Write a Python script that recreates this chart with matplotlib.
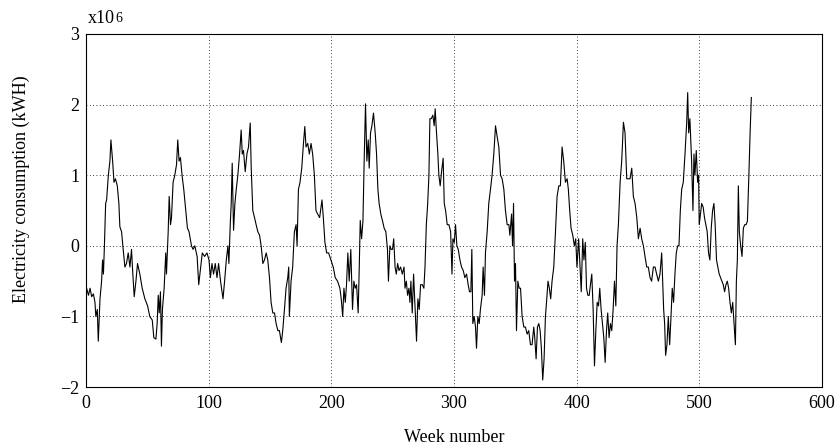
import numpy as np
import matplotlib
matplotlib.use('Agg')
import matplotlib.pyplot as plt

# weekly electricity consumption (deviation), units of 1e6 kWH
week = [
    0.5, 2, 3.3, 4.6, 6, 7.3, 8, 9.2, 10, 11.4, 12.7, 13.5, 14.2, 15, 16, 16.8, 18.2, 19.5, 20.3,
    21.7, 22.8, 24, 25.5, 26.8, 27.6, 29, 30.3, 31.7, 33, 34.4, 35.8, 37.1, 38, 39.3, 40.7, 42,
    43.9, 45.8, 48, 50.2, 52, 54, 55.3, 57, 58, 58.9, 59.7, 60.7, 61.5, 62.3, 63.7, 65, 65.6, 67,
    67.8, 68.9, 69.7, 71, 72.4, 73.8, 74.8, 75.9, 77, 78.3, 79.7, 81.3, 82.7, 84,
    86, 87.3, 88.7, 90.6, 91.9, 93.5, 94.8, 96.7, 98.6, 100.3, 101.4, 102.7, 104, 105.4, 106.8,
    108.1, 109.7, 111.7, 113, 114.4, 115.7, 116.5, 117.6, 118.4, 119.2, 120.3, 121.4, 122.5,
    123.8, 125.2, 126.5, 127.4, 128.4, 129.8, 131.2, 132.5, 133.9, 134.7, 136, 137.4, 138.7,
    140.1, 141.5, 142.8, 144.2, 145.5, 146.9, 148.2, 149.6, 150.9, 152.3, 153.7, 155, 156.4,
    157.7, 159.3, 160.4, 161.8, 163.1, 164.5, 165.3, 165.8, 167.2, 168.5, 169.9, 171.3, 172.1,
    173.2, 174.5, 175.9, 177.3, 178.4, 179.4, 180.8, 182.1, 183.5, 184.8, 186.2, 187.5, 188.9,
    190.5, 192.4, 193.5, 194.8, 196.2, 197.8, 199.7, 201.6, 203.2, 205.1, 207, 208.1, 209.3,
    210.3, 211.4, 212.4, 213.5, 214.6, 215.9, 217.3, 218.4, 219.5, 220.6, 221.9, 222.8, 223.6,
    224.7, 225.8, 226.8, 227.9, 229, 230.1, 230.9, 232, 233.1, 234.4, 235.8, 236.9, 238, 239,
    240.4, 241.8, 243.1, 244.5, 245.8, 246.6, 247.8, 248.8, 249.9, 250.9, 252, 253, 254.1,
    255.2, 256.5, 257.9, 259.3, 260.1, 261.2, 262.2, 263.3, 264.1, 264.9, 266, 267.1, 268.2,
    269.5, 270.6, 271.7, 272.8, 274.2, 275.5, 276.4, 277.5, 278.6, 279.6, 280.4, 281.5, 282.8,
    283.9, 284.7, 285.8, 286.9, 287.7, 288.8, 289.9, 291.2, 292.1, 293.2, 294.5, 295.9,
    297.3, 298.4, 299.2, 300.3, 301.3, 302.4, 303.5, 304.9, 306.2, 307.6, 308.9, 310.3, 311.6,
    312.7, 313.8, 314.6, 315.4, 316.5, 317.6, 318.4, 319.5, 320.6, 321.6, 323, 323.8, 324.9,
    325.7, 327.1, 328.4, 329.8, 331.1, 332.5, 333.9, 335.2, 336.6, 338, 339.3, 340.7, 342,
    343.4, 344.8, 345.6, 347, 347.8, 348.6, 349.4, 350.2, 351, 352.1, 353.2, 354.3, 355.6, 357,
    358.3, 359.7, 361, 362.4, 363.7, 365.1, 365.9, 367, 368.1, 369.2, 370.3, 371.3, 372.4,
    373.5, 374.6, 375.7, 376.7, 377.8, 378.9, 380, 381.4, 382.8, 384.1, 385.5, 386.8, 388.2,
    389.5, 390.9, 392.3, 393.3, 394.4, 395.5, 396.9, 398.2, 399.3, 400.3, 401.7,
    403.8, 405, 406, 407.1, 408.1, 409.2, 410.3, 411.3, 412.4, 413.5, 414.6, 415.7, 416.8,
    417.9, 418.9, 420, 421.1, 422.2, 423.3, 424.4, 425.4, 426.5, 427.6, 428.7, 429.8, 430.9,
    432, 433, 434.1, 435.5, 436.8, 438.2, 439.5, 440.9, 442.3, 443.6, 445, 446.3, 447.7, 449.1,
    450.4, 451.8, 453.1, 454.5, 455.8, 457.2, 458.5, 459.9, 461.2, 462.6, 464, 465.3, 466.7,
    468, 469.4, 470.2, 471, 471.8, 472.6, 473.7, 474.8, 475.9, 477, 478, 479.1, 480.2, 481.3,
    482.4, 483.5, 484.6, 485.7, 487, 488.4, 489.8, 490.6,
    491.4, 492.4, 493.8, 494.9, 495.7, 496.5, 497.6, 498.7, 499.5, 500, 501, 502, 503.2, 504.3,
    505.4, 506.5, 507.6, 508.7, 509.8, 510.9, 512, 513, 514.1, 515.2, 516.3, 517.4, 518.5,
    519.6, 520.7, 521.8, 522.9, 524, 525.1, 526.2, 527.3, 528.4, 529.5, 530.3, 531.1, 531.9,
    532.7, 533.8, 534.9, 536, 537.1, 538.2, 539.3, 540.4, 541.5, 542.5,
]
consumption = [
    -0.6, -0.7, -0.6, -0.72, -0.68, -0.8, -1.0, -0.9, -1.35, -0.75, -0.5, -0.2, -0.4, 0.0, 0.6, 0.65, 1.0, 1.2, 1.5,
    1.2, 0.9, 0.95, 0.85, 0.6, 0.27, 0.2, -0.05, -0.3, -0.25, -0.1, -0.3, -0.05, -0.35, -0.72, -0.5, -0.25,
    -0.4, -0.6, -0.75, -0.85, -1.0, -1.05, -1.3, -1.32, -1.1, -0.7, -0.95, -0.65, -1.42, -0.9, -0.6, -0.1, -0.4, 0.2,
    0.7, 0.3, 0.4, 0.9, 1.0, 1.15, 1.5, 1.2, 1.25, 1.0, 0.8, 0.5, 0.25, 0.2,
    0.0, -0.05, 0.0, -0.15, -0.55, -0.3, -0.1, -0.15, -0.1, -0.2, -0.45, -0.25, -0.4, -0.25, -0.45,
    -0.25, -0.5, -0.75, -0.5, -0.2, 0.0, -0.25, 0.3, 0.6, 1.17, 0.22, 0.6, 0.8,
    1.0, 1.3, 1.64, 1.3, 1.35, 1.05, 1.3, 1.4, 1.74, 1.1, 0.5, 0.4, 0.3,
    0.2, 0.15, 0.0, -0.25, -0.2, -0.1, -0.2, -0.45, -0.8, -0.95, -0.95, -1.1, -1.2,
    -1.2, -1.37, -1.2, -0.9, -0.6, -0.45, -0.3, -1.0, -0.5, -0.3, 0.2, 0.3, 0.0,
    0.8, 0.9, 1.1, 1.45, 1.69, 1.4, 1.45, 1.3, 1.45, 1.3, 1.0, 0.5, 0.45,
    0.4, 0.65, 0.4, 0.05, -0.1, -0.1, -0.2, -0.3, -0.45, -0.5, -0.6, -0.75, -1.0,
    -0.6, -0.8, -0.55, -0.1, -0.5, -0.05, -0.9, -0.5, -0.6, -0.55, -0.95, -0.3, 0.36,
    0.1, 0.35, 1.2, 2.01, 1.2, 1.5, 1.1, 1.6, 1.7, 1.88, 1.6, 1.3, 0.8, 0.6,
    0.45, 0.35, 0.25, 0.2, -0.05, -0.5, 0.0, -0.05, -0.05, 0.1, -0.3, -0.4, -0.25,
    -0.35, -0.3, -0.4, -0.3, -0.6, -0.5, -0.7, -0.6, -0.8, -0.5, -0.95, -0.4, -0.85,
    -1.35, -0.75, -0.9, -0.55, -0.55, -0.6, -0.3, 0.3, 0.6, 1.0, 1.8, 1.8, 1.85,
    1.7, 1.94, 1.6, 1.3, 1.0, 0.85, 1.05, 1.24, 0.6, 0.5, 0.3, 0.3,
    0.2, -0.4, 0.1, 0.05, 0.3, 0.0, -0.05, -0.2, -0.3, -0.35, -0.45, -0.4, -0.55,
    -0.65, -0.65, -0.05, -1.1, -1.0, -1.15, -1.45, -1.0, -1.1, -0.9, -0.7, -0.3, -0.7,
    -0.1, 0.2, 0.6, 0.8, 1.0, 1.3, 1.7, 1.55, 1.4, 1.0, 0.95, 0.8, 0.5,
    0.3, 0.3, 0.15, 0.45, 0.0, 0.6, -0.5, -0.25, -1.2, -0.5, -0.6, -0.6, -1.0, -1.15,
    -1.15, -1.25, -1.2, -1.4, -1.4, -1.15, -1.3, -1.6, -1.15, -1.1, -1.2, -1.45, -1.9,
    -1.6, -1.0, -0.75, -0.5, -0.6, -0.75, -0.5, -0.3, 0.2, 0.7, 0.85, 0.85, 1.4,
    1.2, 0.9, 0.95, 0.8, 0.5, 0.25, 0.15, 0.0, 0.1, -0.3, 0.1,
    -0.65, 0.1, -0.2, 0.05, -0.6, -0.7, -0.7, -0.55, -0.4, -0.9, -1.7, -1.2, -0.8,
    -0.85, -0.6, -0.9, -1.1, -1.3, -1.65, -1.2, -0.95, -1.3, -1.1, -1.2, -0.9, -0.5,
    -0.85, 0.0, 0.3, 0.9, 1.2, 1.75, 1.6, 0.95, 0.95, 0.95, 1.1, 0.7, 0.6, 0.4,
    0.1, 0.25, 0.1, 0.0, -0.15, -0.3, -0.3, -0.45, -0.5, -0.3, -0.3, -0.4, -0.5,
    -0.4, -0.1, -0.5, -0.9, -1.1, -1.55, -1.4, -1.0, -1.4, -1.0, -0.6, -0.8, -0.4, -0.1,
    0.0, 0.0, 0.5, 0.8, 0.9, 1.3, 1.75, 2.17,
    1.6, 1.8, 1.2, 0.5, 1.3, 1.0, 1.35, 0.9, 1.0, 0.3, 0.45, 0.6, 0.55, 0.4,
    0.3, 0.2, -0.1, -0.2, 0.25, 0.5, 0.6, 0.3, -0.2, -0.3, -0.4, -0.45, -0.5,
    -0.55, -0.65, -0.55, -0.5, -0.6, -0.8, -0.95, -0.8, -1.1, -1.4, -0.5, -0.2, 0.85,
    0.2, 0.0, -0.15, 0.25, 0.3, 0.3, 0.35, 0.95, 1.6, 2.1,
]

xticks = [0, 100, 200, 300, 400, 500, 600]
yticks = [-2, -1, 0, 1, 2, 3]

plt.rcParams['font.family'] = ['Liberation Serif', 'DejaVu Serif']

fig = plt.figure(figsize=(8.4, 4.47), dpi=100)
ax = fig.add_axes([0.1024, 0.134, 0.876, 0.790])

ax.plot(week, consumption, color='black', lw=0.8)

ax.set_xlim(0, 600)
ax.set_ylim(-2, 3)
ax.set_xticks(xticks)
ax.set_yticks(yticks)
ax.tick_params(direction='in', length=0, labelsize=13)
ax.tick_params(axis='x', pad=6)
ax.tick_params(axis='y', pad=5)
ax.grid(True, linestyle=(0, (1, 3)), color='black', lw=0.6)

for s in ax.spines.values():
    s.set_linewidth(0.8)

ax.set_xlabel('Week number', fontsize=13, labelpad=12)
ax.set_ylabel('Electricity consumption (kWH)', fontsize=13)
ax.yaxis.set_label_coords(-0.076, 0.56)

t = ax.text(0.002, 1.02, 'x10', transform=ax.transAxes, fontsize=13, ha='left', va='bottom')
ax.annotate('6', xy=(1, 1), xycoords=t, xytext=(0.3, -1.5), textcoords='offset points',
            fontsize=10, ha='left', va='top')

fig.savefig('out.png', dpi=100)
